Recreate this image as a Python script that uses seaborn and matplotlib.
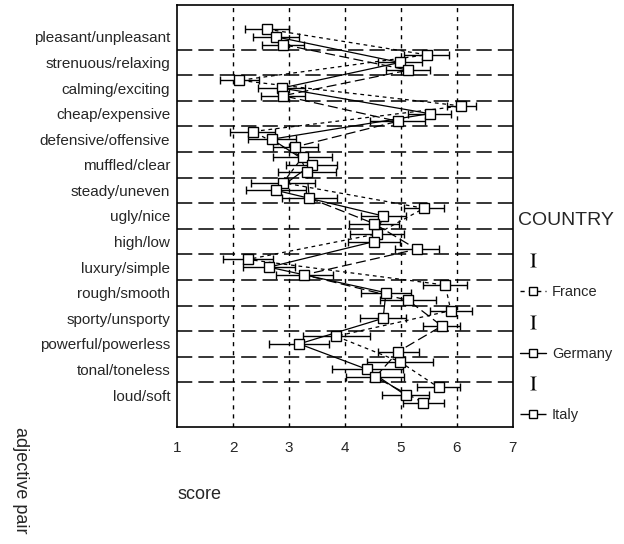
import numpy as np
import pandas as pd
import seaborn as sns
import matplotlib
matplotlib.use("Agg")
import matplotlib.pyplot as plt
from matplotlib.lines import Line2D

#%% data
adjectives = ["pleasant/unpleasant", "strenuous/relaxing", "calming/exciting",
              "cheap/expensive", "defensive/offensive", "muffled/clear",
              "steady/uneven", "ugly/nice", "high/low", "luxury/simple",
              "rough/smooth", "sporty/unsporty", "powerful/powerless",
              "tonal/toneless", "loud/soft"]
countries = ["France", "Germany", "Italy"]

france = [2.61, 5.46, 2.11, 6.08, 2.35, 3.24, 2.89, 5.41, 4.57, 2.26, 5.79, 5.89, 3.84, 4.98, 5.67]
germany = [2.77, 4.98, 2.87, 5.51, 2.69, 3.40, 2.77, 4.68, 4.52, 2.64, 4.73, 4.68, 3.18, 4.40, 5.08]
italy = [2.89, 5.13, 2.89, 4.94, 3.11, 3.32, 3.36, 4.52, 5.28, 3.27, 5.13, 5.73, 4.95, 4.54, 5.40]

france_err = [0.39, 0.40, 0.35, 0.26, 0.40, 0.52, 0.57, 0.36, 0.49, 0.45, 0.39, 0.37, 0.60, 0.59, 0.39]
germany_err = [0.41, 0.40, 0.42, 0.39, 0.43, 0.45, 0.54, 0.40, 0.46, 0.46, 0.45, 0.41, 0.54, 0.63, 0.42]
italy_err = [0.37, 0.39, 0.39, 0.49, 0.40, 0.51, 0.49, 0.45, 0.39, 0.51, 0.50, 0.33, 0.37, 0.52, 0.37]

x_ticks = [1, 2, 3, 4, 5, 6, 7]

#%% long df
offsets = {"France": -0.3, "Germany": 0.0, "Italy": 0.3}
scores = {"France": france, "Germany": germany, "Italy": italy}
errs = {"France": france_err, "Germany": germany_err, "Italy": italy_err}

rows = []
for c in countries:
    for i, adj in enumerate(adjectives):
        rows.append({"adjective pair": adj, "country": c, "score": scores[c][i],
                     "err": errs[c][i], "ypos": i + offsets[c]})
df = pd.DataFrame(rows)

#%% plot
sns.set_style("white")
plt.rcParams["font.family"] = ["Liberation Sans", "DejaVu Sans"]
plt.rcParams["mathtext.fontset"] = "stix"

fig, ax = plt.subplots(figsize=(6.24, 5.44), dpi=100)
fig.subplots_adjust(left=0.284, right=0.822, top=0.991, bottom=0.215)

dash_map = {"France": (3, 3), "Germany": "", "Italy": (8, 3.5)}

# grid first
for xv in x_ticks[1:-1]:
    ax.axvline(xv, color="black", lw=1, dashes=(3, 3.5), zorder=1)
for k in range(len(adjectives) - 1):
    ax.axhline(k + 0.5, color="black", lw=1.1, dashes=(10, 4), zorder=1)

sns.lineplot(data=df, x="score", y="ypos", style="country", dashes=dash_map,
             color="black", lw=0.9, orient="y", sort=True, errorbar=None,
             legend=False, ax=ax, zorder=2)

for c in countries:
    sub = df[df["country"] == c]
    ax.errorbar(sub["score"], sub["ypos"], xerr=sub["err"], fmt="s",
                ms=7, mfc="white", mec="black", mew=1, ecolor="black",
                elinewidth=1, capsize=3, capthick=1, zorder=3)

ax.set_xlim(1, 7)
ax.set_ylim(len(adjectives) + 0.25, -1.25)
ax.set_xticks(x_ticks)
ax.set_xticklabels([str(v) for v in x_ticks], fontsize=11)
ax.set_yticks(range(len(adjectives)))
ax.set_yticklabels(adjectives, fontsize=11)
ax.tick_params(axis="both", direction="out", length=2, width=1.5, color="black")
ax.tick_params(axis="x", pad=8)
ax.tick_params(axis="y", pad=3)
for s in ax.spines.values():
    s.set_color("black")
    s.set_linewidth(1.2)

ax.set_xlabel("score", fontsize=13, ha="left")
ax.xaxis.set_label_coords(0.0, -0.14)
ax.set_ylabel("adjective pair", fontsize=13, rotation=270, rotation_mode="anchor",
              ha="left", va="center")
ax.yaxis.set_label_coords(-0.468, 0.0)

#%% legend
handles, labels = [], []
for c in countries:
    handles.append(Line2D([], [], ls="none", marker=r"$\mathrm{I}$", ms=10,
                          color="black", mew=0))
    labels.append("")
    handles.append(Line2D([], [], color="black", lw=1,
                          dashes=dash_map[c] if dash_map[c] else (None, None),
                          marker="s", ms=6, mfc="white", mec="black"))
    labels.append(c)
leg = ax.legend(handles, labels, loc="upper left",
                bbox_to_anchor=(0.982, 0.44), frameon=False, fontsize=10.5,
                labelspacing=1.15, handlelength=1.8, handletextpad=0.4)
ax.text(1.015, 0.49, "COUNTRY", transform=ax.transAxes, fontsize=14,
        ha="left", va="center")

fig.savefig("out.png", dpi=100)
